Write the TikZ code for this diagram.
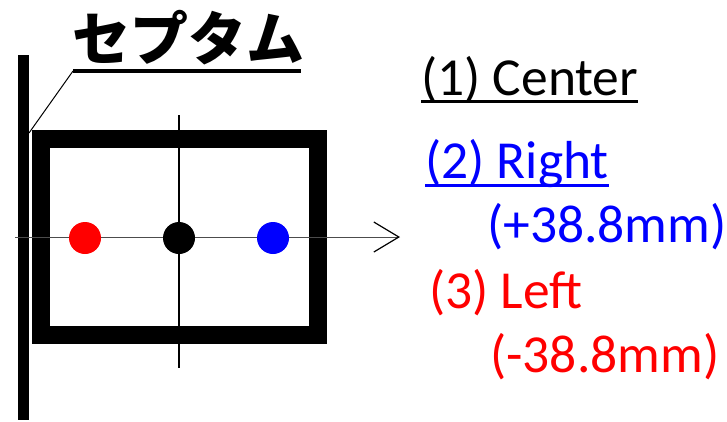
\documentclass[tikz,border=0pt]{standalone}
\usepackage{fontspec}
\usepackage{xcolor}
\usepackage{tikz}
\usetikzlibrary{arrows.meta}
\setmainfont{Carlito}
\newfontfamily\jpfont{Noto Sans CJK JP}

\begin{document}
\begin{tikzpicture}[x=1pt,y=-1pt,
  dot/.style={circle,fill,inner sep=0pt,minimum size=32pt},
  lbl/.style={anchor=base west,inner sep=0pt,font=\fontsize{53.5}{53.5}\selectfont},
  uline/.style={line width=3pt}]
\useasboundingbox (0,0) rectangle (727,421);
% septum and frame
\draw[line width=11pt] (23,55) -- (23,420);
\draw[line width=18pt] (40.5,138.5) rectangle (318,335);
% axes
\draw[line width=1.5pt] (179,115) -- (179,368);
\draw[line width=1pt,black!70,-{Straight Barb[length=25pt,width=30pt,black,line width=1.2pt]}] (15,237) -- (400,237);
% beam positions
\node[dot,red] (left) at (85,238) {};
\node[dot,black] (center) at (179,238) {};
\node[dot,blue] (right) at (273,238) {};
% label of the septum
\node[anchor=base west,inner sep=0pt,font=\jpfont\bfseries\fontsize{58}{58}\selectfont] (sept) at (72,60) {セプタム};
\coordinate (corner) at (29,133);
\coordinate (ulstart) at (73,71);
\coordinate (ulend) at (301,71);
\draw[line width=1pt] (corner) -- (ulstart);
\draw[line width=4pt] (ulstart) -- (ulend);
% legend
\node[lbl] (c1) at (421,95) {(1) Center};
\node[lbl,blue] (c2) at (425,178) {(2) Right};
\node[lbl,blue] (c2mm) at (487,242) {(+38.8mm)};
\node[lbl,red] (c3) at (429,308) {(3) Left};
\node[lbl,red] (c3mm) at (490,372) {(-38.8mm)};
\draw[uline] ([yshift=-6pt]c1.base west) -- ([yshift=-6pt]c1.base east);
\draw[uline,blue] ([yshift=-7pt]c2.base west) -- ([yshift=-7pt]c2.base east);
\end{tikzpicture}
\end{document}
